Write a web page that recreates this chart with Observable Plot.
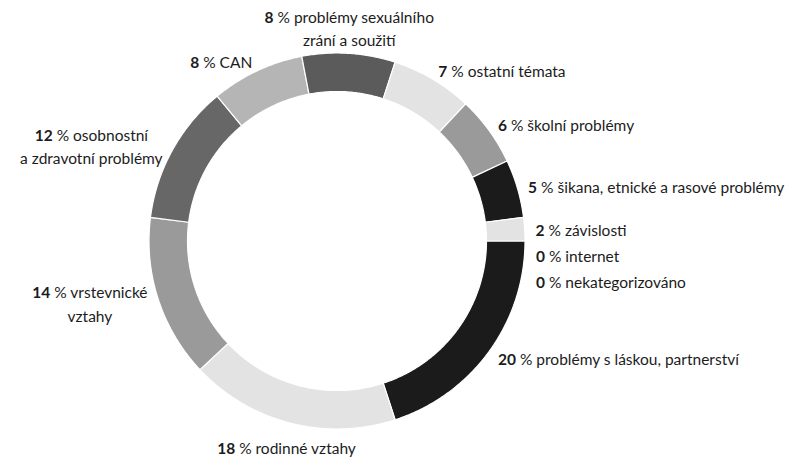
<!DOCTYPE html>
<html><head><meta charset="utf-8">
<script src="https://cdn.jsdelivr.net/npm/d3@7"></script>
<script src="https://cdn.jsdelivr.net/npm/@observablehq/plot@0.6"></script>
<style>
body{margin:0;background:#fff}
#chart{width:811px;height:459px}
</style>
</head><body><div id="chart"></div>
<script>
// ---- data ----
const categories = [
  "problémy s láskou, partnerství",
  "rodinné vztahy",
  "vrstevnické\nvztahy",
  "osobnostní\na zdravotní problémy",
  "CAN",
  "problémy sexuálního\nzrání a soužití",
  "ostatní témata",
  "školní problémy",
  "šikana, etnické a rasové problémy",
  "závislosti",
  "internet",
  "nekategorizováno"
];
const values = [20, 18, 14, 12, 8, 8, 7, 6, 5, 2, 0, 0];
const colors = ["#1a1b1a", "#e3e3e3", "#9a9a9a", "#676767", "#b5b5b5", "#5b5b5b",
                "#e3e3e3", "#9a9a9a", "#1a1b1a", "#e3e3e3", "#cccccc", "#cccccc"];

// ---- layout ----
const W = 811, H = 459, cx = 336.5, cy = 240.5, R = 188, R0 = 149.5 / 188;
const startDeg = 90, labelPad = 11, gap = 26, fontSize = 15.5, fontFamily = "Lato";
const textColor = "#1c1c1c";
const rad = d => d * Math.PI / 180;

const total = d3.sum(values);
let acc = 0;
const slices = categories.map((c, i) => {
  const a0 = startDeg + acc / total * 360;
  acc += values[i];
  const a1 = startDeg + acc / total * 360;
  return {cat: c, value: values[i], a0, a1, mid: (a0 + a1) / 2};
});

const arcRows = [];
for (const s of slices) {
  if (s.value <= 0) continue;
  const n = Math.max(2, Math.ceil((s.a1 - s.a0) / 0.5));
  for (let k = 0; k <= n; k++) {
    const a = rad(s.a0 + (s.a1 - s.a0) * k / n);
    arcRows.push({cat: s.cat, x: Math.sin(a), y: Math.cos(a)});
  }
  for (let k = n; k >= 0; k--) {
    const a = rad(s.a0 + (s.a1 - s.a0) * k / n);
    arcRows.push({cat: s.cat, x: R0 * Math.sin(a), y: R0 * Math.cos(a)});
  }
}

const ctx = document.createElement("canvas").getContext("2d");
function lineWidth(line) {
  const m = line.match(/^(\d+)( %.*)$/);
  if (m) {
    ctx.font = `bold ${fontSize}px ${fontFamily}`;
    const w1 = ctx.measureText(m[1]).width;
    ctx.font = `${fontSize}px ${fontFamily}`;
    return w1 + ctx.measureText(m[2]).width;
  }
  ctx.font = `${fontSize}px ${fontFamily}`;
  return ctx.measureText(line).width;
}

const labels = slices.map(s => {
  const text = `${s.value} % ${s.cat}`;
  const lines = text.split("\n");
  const sn = Math.sin(rad(s.mid)), cs = Math.cos(rad(s.mid));
  let kind = sn > 0.3 ? "start" : sn < -0.3 ? (lines.length > 1 ? "endmulti" : "end") : (cs > 0 ? "top" : "bottom");
  const rl = R + labelPad + (kind === "top" || kind === "bottom" ? 4 : 0) * (cs > 0 ? -1 : 1);
  let px = cx + rl * sn, py = cy - rl * cs;
  if (kind === "endmulti") px -= d3.max(lines, lineWidth) / 2;
  return {text, kind, px, py, mid: s.mid};
});
// avoid overlaps of right-side labels
const right = labels.filter(d => d.kind === "start").sort((a, b) => a.py - b.py);
for (let i = 1; i < right.length; i++) {
  if (right[i].py < right[i - 1].py + gap) right[i].py = right[i - 1].py + gap;
}
labels.forEach(d => { d.x = (d.px - cx) / R; d.y = (cy - d.py) / R; });

const textOpts = {x: "x", y: "y", text: "text", fontSize, fontFamily, fill: textColor, lineHeight: 1.5};

const plot = Plot.plot({
  width: W, height: H, margin: 0,
  x: {domain: [-cx / R, (W - cx) / R], axis: null},
  y: {domain: [-(H - cy) / R, cy / R], axis: null},
  color: {type: "ordinal", domain: categories, range: colors},
  style: {background: "#fff", fontFamily},
  marks: [
    Plot.line(arcRows, {x: "x", y: "y", z: "cat", fill: "cat", stroke: "#fff", strokeWidth: 1.2, curve: "linear-closed"}),
    Plot.text(labels.filter(d => d.kind === "start"), {...textOpts, textAnchor: "start", lineAnchor: "middle"}),
    Plot.text(labels.filter(d => d.kind === "end"), {...textOpts, textAnchor: "end", lineAnchor: "middle"}),
    Plot.text(labels.filter(d => d.kind === "endmulti"), {...textOpts, textAnchor: "middle", lineAnchor: "middle"}),
    Plot.text(labels.filter(d => d.kind === "top"), {...textOpts, textAnchor: "middle", lineAnchor: "bottom"}),
    Plot.text(labels.filter(d => d.kind === "bottom"), {...textOpts, textAnchor: "middle", lineAnchor: "top"})
  ]
});

// bold percentages
d3.select(plot).selectAll("text").each(function () {
  const first = this.querySelector("tspan") || this;
  const m = (first.textContent || "").match(/^(\d+)( %.*)$/);
  if (!m) return;
  first.textContent = "";
  const b = document.createElementNS("http://www.w3.org/2000/svg", "tspan");
  b.setAttribute("font-weight", "bold");
  b.textContent = m[1];
  first.appendChild(b);
  first.appendChild(document.createTextNode(m[2]));
});

document.getElementById("chart").appendChild(plot);
</script>
</body></html>
